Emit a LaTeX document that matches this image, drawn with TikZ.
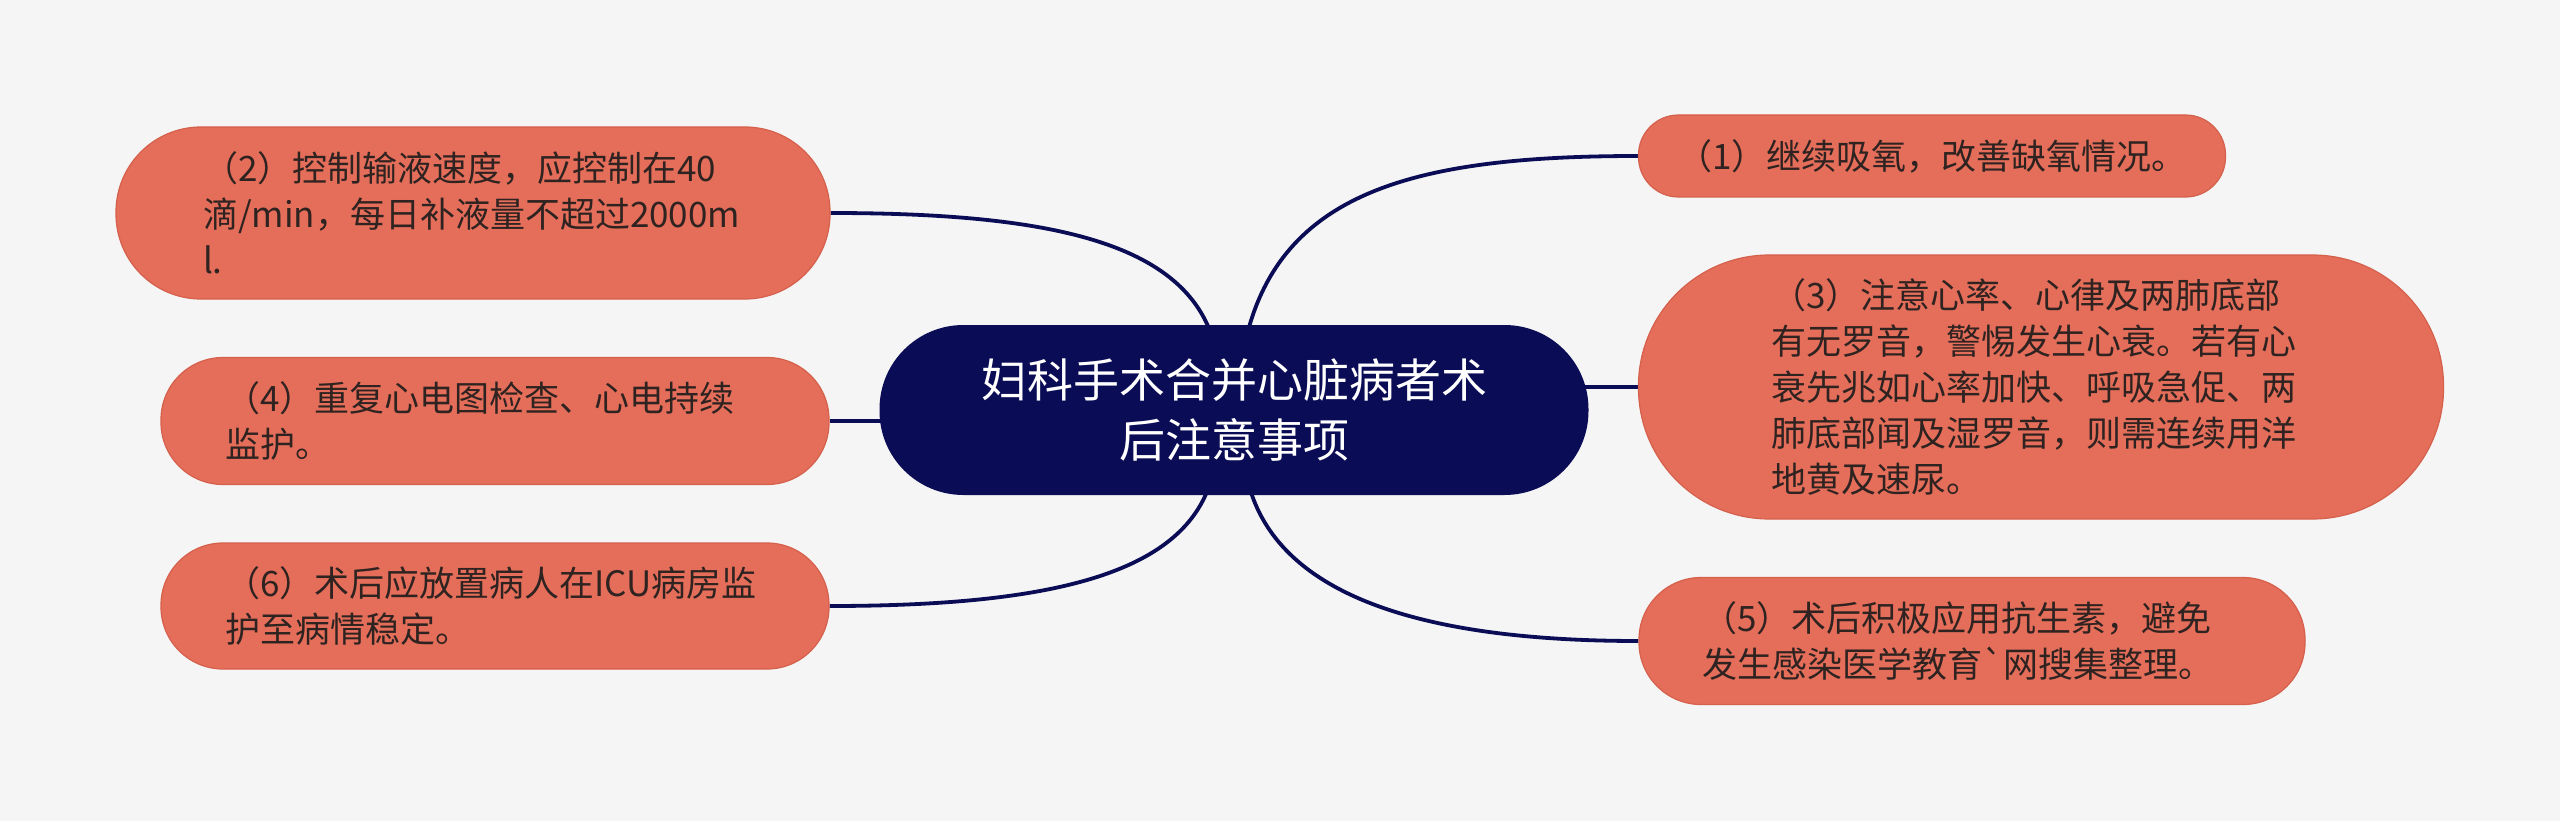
\documentclass[tikz,border=0pt]{standalone}
\usepackage{fontspec}
\newfontfamily\cjk{Noto Sans CJK SC}
\usetikzlibrary{calc}
\definecolor{bgc}{HTML}{F5F5F5}
\definecolor{pillc}{HTML}{E46E5A}
\definecolor{pillb}{HTML}{D5604C}
\definecolor{navy}{HTML}{0A0C55}
\definecolor{txtc}{HTML}{2F2321}
\pgfdeclarelayer{bgl}
\pgfdeclarelayer{edges}
\pgfsetlayers{bgl,edges,main}
\tikzset{
  pill/.style={draw=pillb, line width=1.2pt, fill=pillc, text=txtc,
    font=\cjk\fontsize{35pt}{46pt}\selectfont, inner sep=0pt},
  pilltext/.style={pill, text width=540pt, align=left},
  hub/.style={fill=navy, text=white, font=\cjk\fontsize{46pt}{60pt}\selectfont,
    align=center, inner sep=0pt, rounded corners=84pt,
    minimum width=709pt, minimum height=170pt},
  conn/.style={draw=navy, line width=3.8pt}
}
\begin{document}
\begin{tikzpicture}[x=1pt,y=-1pt]
\useasboundingbox (0,0) rectangle (2560,821);
\begin{pgfonlayer}{bgl}
\fill[bgc] (0,0) rectangle (2560,821);
\end{pgfonlayer}

\node[hub] (c) at (1234,410) {妇科手术合并心脏病者术\\后注意事项};

\node[pill, align=center, minimum width=587pt, minimum height=82pt, rounded corners=40pt] (n1) at (1932,156) {（1）继续吸氧，改善缺氧情况。};

\node[pilltext, minimum width=714pt, minimum height=172pt, rounded corners=85pt] (n2) at (473,213) {（2）控制输液速度，应控制在40\\滴/min，每日补液量不超过2000m\\l.};

\node[pilltext, minimum width=805pt, minimum height=264pt, rounded corners=131pt] (n3) at (2041,387) {（3）注意心率、心律及两肺底部\\有无罗音，警惕发生心衰。若有心\\衰先兆如心率加快、呼吸急促、两\\肺底部闻及湿罗音，则需连续用洋\\地黄及速尿。};

\node[pilltext, minimum width=668pt, minimum height=127pt, rounded corners=62pt] (n4) at (495,421) {（4）重复心电图检查、心电持续\\监护。};

\node[pilltext, minimum width=666pt, minimum height=127pt, rounded corners=62pt] (n5) at (1972,641) {（5）术后积极应用抗生素，避免\\发生感染医学教育`网搜集整理。};

\node[pilltext, minimum width=668pt, minimum height=126pt, rounded corners=62pt] (n6) at (495,606) {（6）术后应放置病人在ICU病房监\\护至病情稳定。};

\begin{pgfonlayer}{edges}
\coordinate (s1) at ($(c.north)+(14,6)$);
\coordinate (s2) at ($(c.north)+(-24,6)$);
\coordinate (s5) at ($(c.south)+(16,-6)$);
\coordinate (s6) at ($(c.south)+(-26,-6)$);
\draw[conn] (s1) .. controls ($(s1)+(38,-140)$) and ($(n1.west)+(-220,0)$) .. (n1.west);
\draw[conn] (s2) .. controls ($(s2)+(-35,-88)$) and ($(n2.east)+(220,0)$) .. (n2.east);
\draw[conn] ($(c.east |- n3.west)+(-12,0)$) -- (n3.west);
\draw[conn] (n4.east) -- ($(c.west |- n4.east)+(12,0)$);
\draw[conn] (s5) .. controls ($(s5)+(32,105)$) and ($(n5.west)+(-220,0)$) .. (n5.west);
\draw[conn] (s6) .. controls ($(s6)+(-33,85)$) and ($(n6.east)+(220,0)$) .. (n6.east);
\end{pgfonlayer}
\end{tikzpicture}
\end{document}
